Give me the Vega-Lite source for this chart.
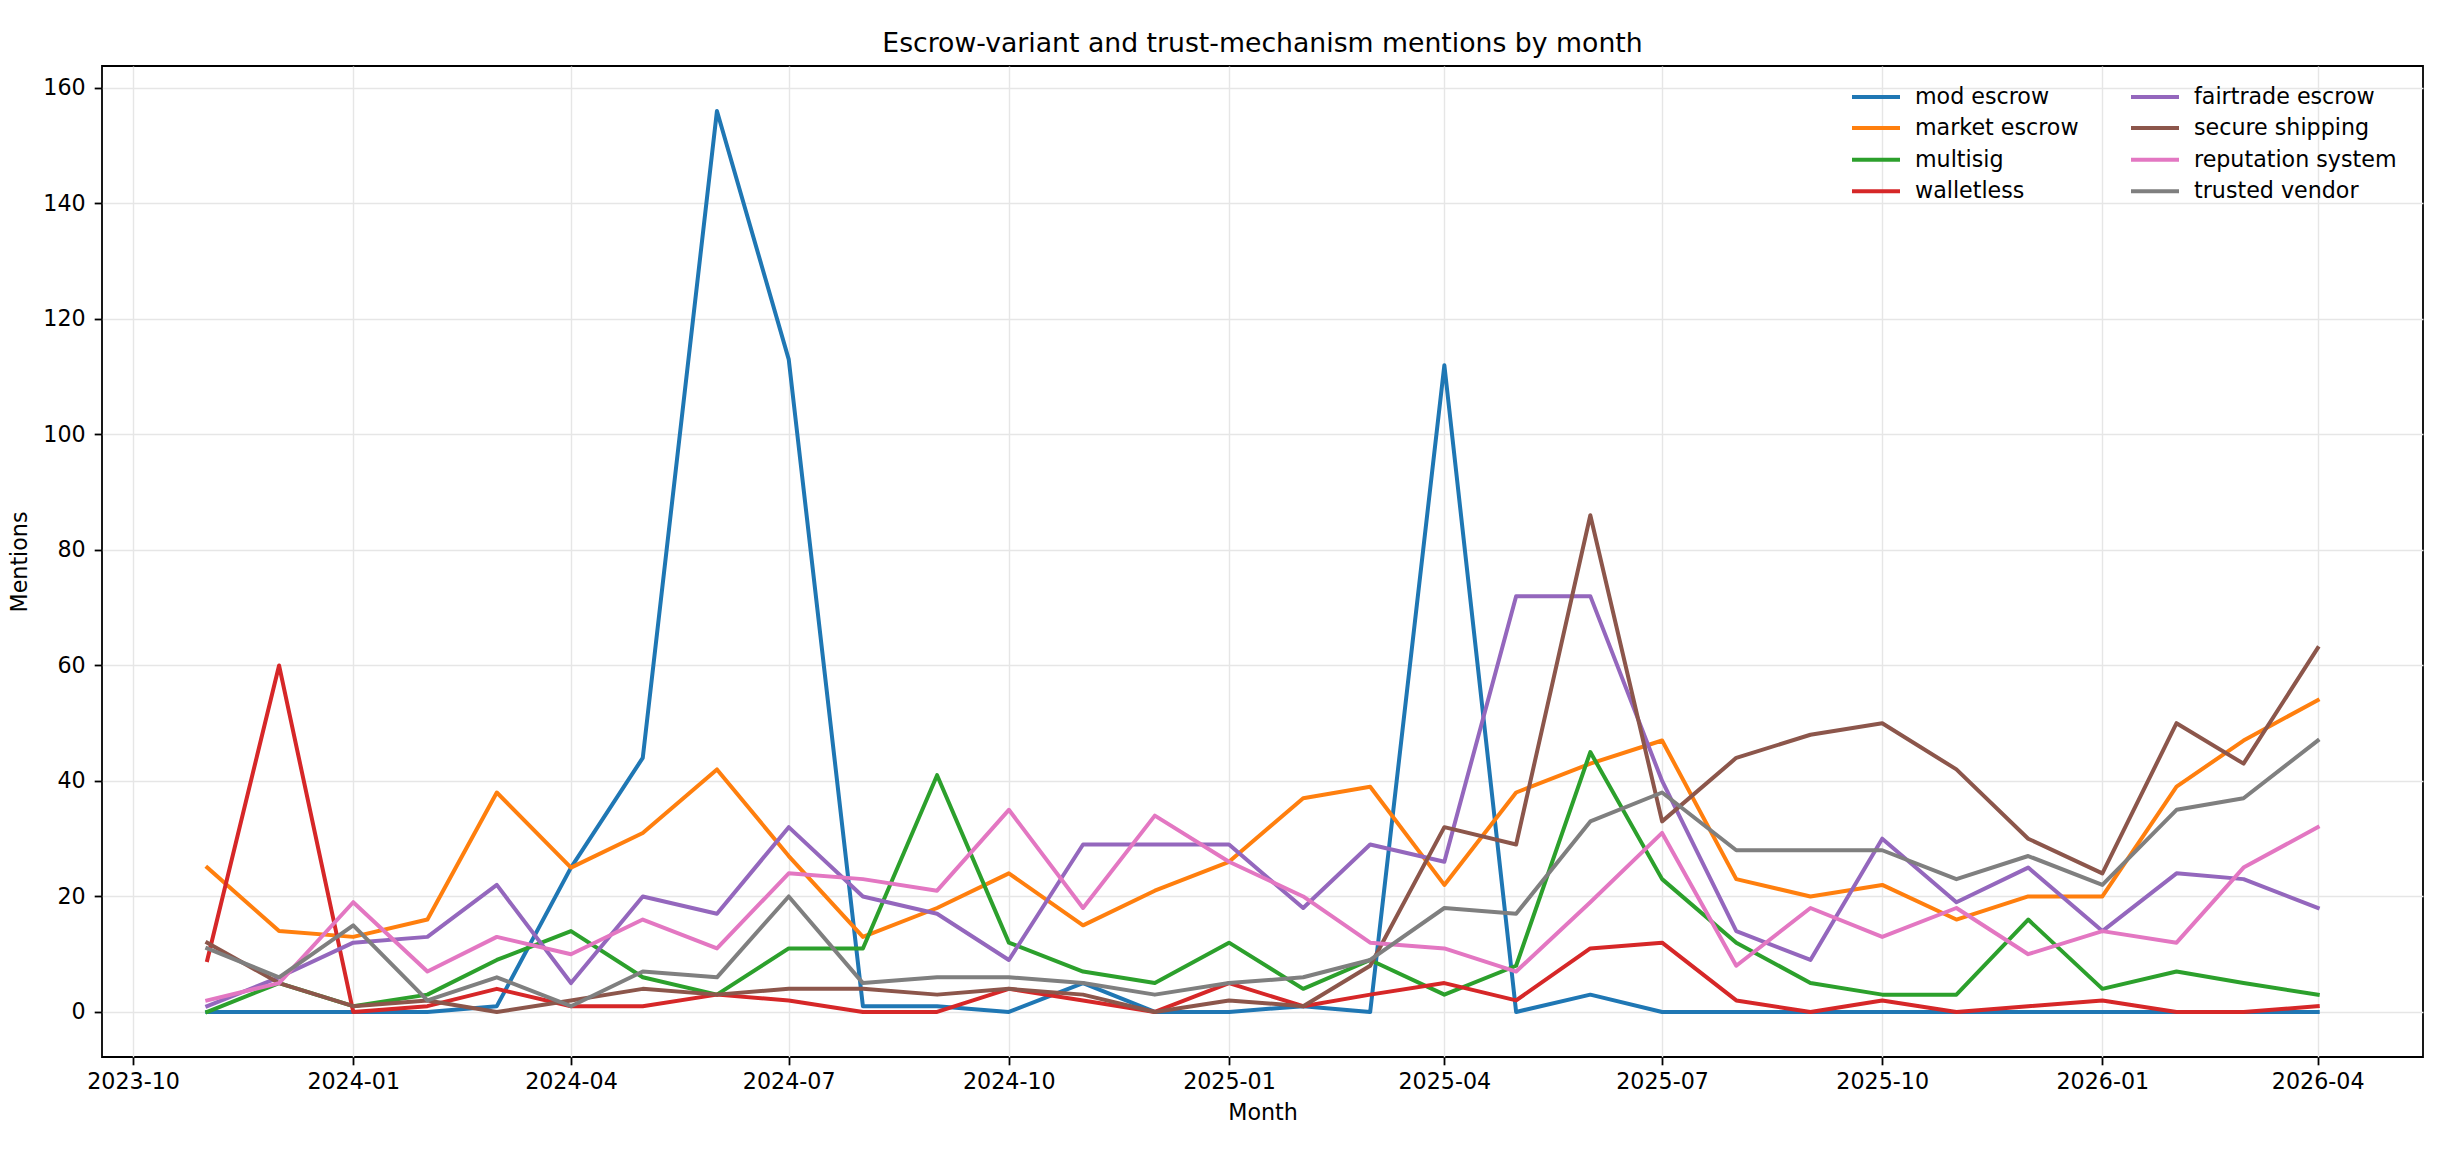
{
  "$schema": "https://vega.github.io/schema/vega-lite/v6.json",
  "width": 2321,
  "height": 991,
  "autosize": {"type": "none"},
  "padding": {"left": 102, "top": 66, "right": 28, "bottom": 94},
  "background": "white",
  "title": {"text": "Escrow-variant and trust-mechanism mentions by month", "font": "DejaVu Sans", "fontSize": 26.7, "fontWeight": "normal", "color": "black", "offset": 8, "anchor": "middle"},
  "datasets": {
    "wide": [
      {"month":"2023-11-01","mod escrow":0,"market escrow":25,"multisig":0,"walletless":9,"fairtrade escrow":1,"secure shipping":12,"reputation system":2,"trusted vendor":11},
      {"month":"2023-12-01","mod escrow":0,"market escrow":14,"multisig":5,"walletless":60,"fairtrade escrow":6,"secure shipping":5,"reputation system":5,"trusted vendor":6},
      {"month":"2024-01-01","mod escrow":0,"market escrow":13,"multisig":1,"walletless":0,"fairtrade escrow":12,"secure shipping":1,"reputation system":19,"trusted vendor":15},
      {"month":"2024-02-01","mod escrow":0,"market escrow":16,"multisig":3,"walletless":1,"fairtrade escrow":13,"secure shipping":2,"reputation system":7,"trusted vendor":2},
      {"month":"2024-03-01","mod escrow":1,"market escrow":38,"multisig":9,"walletless":4,"fairtrade escrow":22,"secure shipping":0,"reputation system":13,"trusted vendor":6},
      {"month":"2024-04-01","mod escrow":25,"market escrow":25,"multisig":14,"walletless":1,"fairtrade escrow":5,"secure shipping":2,"reputation system":10,"trusted vendor":1},
      {"month":"2024-05-01","mod escrow":44,"market escrow":31,"multisig":6,"walletless":1,"fairtrade escrow":20,"secure shipping":4,"reputation system":16,"trusted vendor":7},
      {"month":"2024-06-01","mod escrow":156,"market escrow":42,"multisig":3,"walletless":3,"fairtrade escrow":17,"secure shipping":3,"reputation system":11,"trusted vendor":6},
      {"month":"2024-07-01","mod escrow":113,"market escrow":27,"multisig":11,"walletless":2,"fairtrade escrow":32,"secure shipping":4,"reputation system":24,"trusted vendor":20},
      {"month":"2024-08-01","mod escrow":1,"market escrow":13,"multisig":11,"walletless":0,"fairtrade escrow":20,"secure shipping":4,"reputation system":23,"trusted vendor":5},
      {"month":"2024-09-01","mod escrow":1,"market escrow":18,"multisig":41,"walletless":0,"fairtrade escrow":17,"secure shipping":3,"reputation system":21,"trusted vendor":6},
      {"month":"2024-10-01","mod escrow":0,"market escrow":24,"multisig":12,"walletless":4,"fairtrade escrow":9,"secure shipping":4,"reputation system":35,"trusted vendor":6},
      {"month":"2024-11-01","mod escrow":5,"market escrow":15,"multisig":7,"walletless":2,"fairtrade escrow":29,"secure shipping":3,"reputation system":18,"trusted vendor":5},
      {"month":"2024-12-01","mod escrow":0,"market escrow":21,"multisig":5,"walletless":0,"fairtrade escrow":29,"secure shipping":0,"reputation system":34,"trusted vendor":3},
      {"month":"2025-01-01","mod escrow":0,"market escrow":26,"multisig":12,"walletless":5,"fairtrade escrow":29,"secure shipping":2,"reputation system":26,"trusted vendor":5},
      {"month":"2025-02-01","mod escrow":1,"market escrow":37,"multisig":4,"walletless":1,"fairtrade escrow":18,"secure shipping":1,"reputation system":20,"trusted vendor":6},
      {"month":"2025-03-01","mod escrow":0,"market escrow":39,"multisig":9,"walletless":3,"fairtrade escrow":29,"secure shipping":8,"reputation system":12,"trusted vendor":9},
      {"month":"2025-04-01","mod escrow":112,"market escrow":22,"multisig":3,"walletless":5,"fairtrade escrow":26,"secure shipping":32,"reputation system":11,"trusted vendor":18},
      {"month":"2025-05-01","mod escrow":0,"market escrow":38,"multisig":8,"walletless":2,"fairtrade escrow":72,"secure shipping":29,"reputation system":7,"trusted vendor":17},
      {"month":"2025-06-01","mod escrow":3,"market escrow":43,"multisig":45,"walletless":11,"fairtrade escrow":72,"secure shipping":86,"reputation system":19,"trusted vendor":33},
      {"month":"2025-07-01","mod escrow":0,"market escrow":47,"multisig":23,"walletless":12,"fairtrade escrow":40,"secure shipping":33,"reputation system":31,"trusted vendor":38},
      {"month":"2025-08-01","mod escrow":0,"market escrow":23,"multisig":12,"walletless":2,"fairtrade escrow":14,"secure shipping":44,"reputation system":8,"trusted vendor":28},
      {"month":"2025-09-01","mod escrow":0,"market escrow":20,"multisig":5,"walletless":0,"fairtrade escrow":9,"secure shipping":48,"reputation system":18,"trusted vendor":28},
      {"month":"2025-10-01","mod escrow":0,"market escrow":22,"multisig":3,"walletless":2,"fairtrade escrow":30,"secure shipping":50,"reputation system":13,"trusted vendor":28},
      {"month":"2025-11-01","mod escrow":0,"market escrow":16,"multisig":3,"walletless":0,"fairtrade escrow":19,"secure shipping":42,"reputation system":18,"trusted vendor":23},
      {"month":"2025-12-01","mod escrow":0,"market escrow":20,"multisig":16,"walletless":1,"fairtrade escrow":25,"secure shipping":30,"reputation system":10,"trusted vendor":27},
      {"month":"2026-01-01","mod escrow":0,"market escrow":20,"multisig":4,"walletless":2,"fairtrade escrow":14,"secure shipping":24,"reputation system":14,"trusted vendor":22},
      {"month":"2026-02-01","mod escrow":0,"market escrow":39,"multisig":7,"walletless":0,"fairtrade escrow":24,"secure shipping":50,"reputation system":12,"trusted vendor":35},
      {"month":"2026-03-01","mod escrow":0,"market escrow":47,"multisig":5,"walletless":0,"fairtrade escrow":23,"secure shipping":43,"reputation system":25,"trusted vendor":37},
      {"month":"2026-04-01","mod escrow":0,"market escrow":54,"multisig":3,"walletless":1,"fairtrade escrow":18,"secure shipping":63,"reputation system":32,"trusted vendor":47}
    ]
  },
  "data": {"name": "wide"},
  "transform": [
    {"fold": ["mod escrow","market escrow","multisig","walletless","fairtrade escrow","secure shipping","reputation system","trusted vendor"], "as": ["series","value"]}
  ],
  "mark": {"type": "line", "strokeWidth": 4, "strokeJoin": "round", "strokeCap": "square", "clip": true},
  "encoding": {
    "x": {
      "field": "month", "type": "temporal",
      "scale": {"type": "utc", "domain": [{"year":2023,"month":9,"date":18,"utc":true},{"year":2026,"month":5,"date":15,"utc":true}], "nice": false},
      "axis": {
        "title": "Month", "format": "%Y-%m", "labelPadding": 6, "titlePadding": 8,
        "values": [
          {"year":2023,"month":10,"date":1,"utc":true},
          {"year":2024,"month":1,"date":1,"utc":true},
          {"year":2024,"month":4,"date":1,"utc":true},
          {"year":2024,"month":7,"date":1,"utc":true},
          {"year":2024,"month":10,"date":1,"utc":true},
          {"year":2025,"month":1,"date":1,"utc":true},
          {"year":2025,"month":4,"date":1,"utc":true},
          {"year":2025,"month":7,"date":1,"utc":true},
          {"year":2025,"month":10,"date":1,"utc":true},
          {"year":2026,"month":1,"date":1,"utc":true},
          {"year":2026,"month":4,"date":1,"utc":true}
        ]
      }
    },
    "y": {
      "field": "value", "type": "quantitative",
      "scale": {"domain": [-7.8, 163.8], "nice": false, "zero": false},
      "axis": {"title": "Mentions", "values": [0,20,40,60,80,100,120,140,160], "labelPadding": 9, "titlePadding": 11}
    },
    "color": {
      "field": "series", "type": "nominal",
      "scale": {
        "domain": ["mod escrow","market escrow","multisig","walletless","fairtrade escrow","secure shipping","reputation system","trusted vendor"],
        "range": ["#1f77b4","#ff7f0e","#2ca02c","#d62728","#9467bd","#8c564b","#e377c2","#7f7f7f"]
      },
      "legend": {
        "title": null, "orient": "none", "legendX": 1756, "legendY": 12.5, "columns": 2,
        "symbolType": "M-1.5,0H1.5", "symbolSize": 1024, "symbolStrokeWidth": 4,
        "labelFont": "DejaVu Sans", "labelFontSize": 22.2, "labelColor": "black", "labelLimit": 400,
        "labelOffset": 21, "rowPadding": 1.6, "columnPadding": 44
      }
    },
    "order": {"field": "month", "type": "temporal"}
  },
  "config": {
    "view": {"stroke": "black", "strokeWidth": 1.8},
    "axis": {
      "domain": false, "grid": true, "gridColor": "#e6e6e6", "gridWidth": 1.4,
      "ticks": true, "tickColor": "black", "tickSize": 7.8, "tickWidth": 1.8,
      "labelFont": "DejaVu Sans", "labelFontSize": 22.2, "labelColor": "black",
      "titleFont": "DejaVu Sans", "titleFontSize": 22.2, "titleFontWeight": "normal", "titleColor": "black"
    }
  }
}
